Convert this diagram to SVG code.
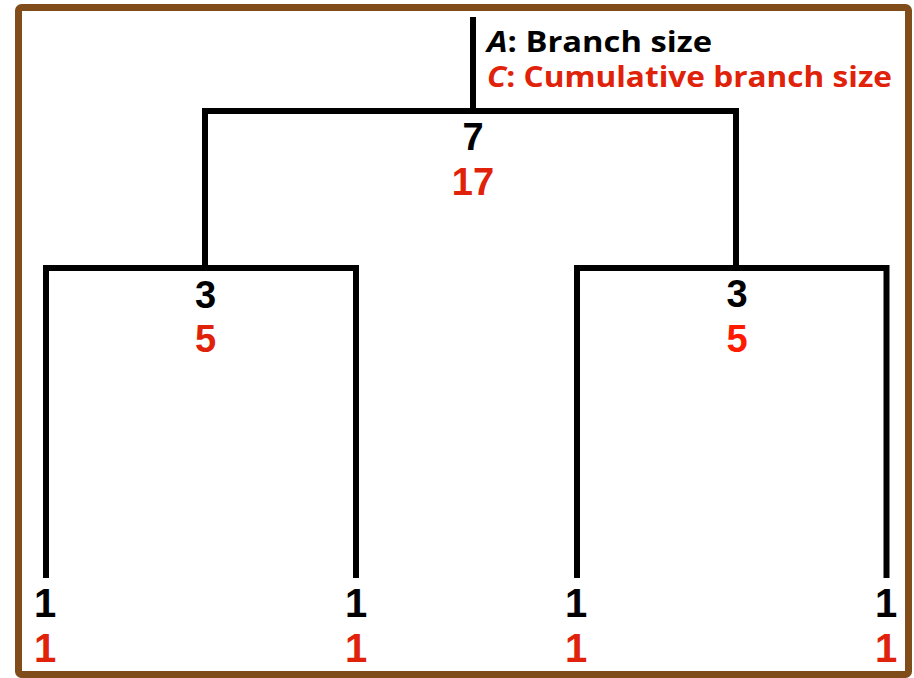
<svg xmlns="http://www.w3.org/2000/svg" width="914" height="678" viewBox="0 0 914 678">
<style>
.edge{fill:none;stroke:#000;stroke-width:6;stroke-linejoin:miter;stroke-linecap:butt}
.a{font-family:"Liberation Sans",Arial,sans-serif;font-weight:bold;font-size:38px;fill:#000;text-anchor:middle}
.c{font-family:"Liberation Sans",Arial,sans-serif;font-weight:bold;font-size:38px;fill:#e0220a;text-anchor:middle}
.la{font-family:"Liberation Sans",Arial,sans-serif;font-weight:bold;font-size:40px;fill:#000;text-anchor:middle}
.lc{font-family:"Liberation Sans",Arial,sans-serif;font-weight:bold;font-size:40px;fill:#e0220a;text-anchor:middle}
.leg{font-family:"Open Sans","Noto Sans",sans-serif;font-weight:bold;font-size:28px}
</style>
<rect x="0" y="0" width="914" height="678" fill="#fff"/>
<rect x="18.5" y="7.5" width="890" height="667" rx="3" fill="#fff" stroke="#7f4c1a" stroke-width="7"/>
<g id="connectors">
<path class="edge" d="M473,17 V111"/>
<path class="edge" d="M205,268 V111 H736 V268"/>
<path class="edge" d="M46,578 V268 H356 V578"/>
<path class="edge" d="M577,578 V268 H886.5 V578"/>
</g>
<g id="legend">
<text class="leg" x="487" y="52" fill="#000" textLength="225" lengthAdjust="spacingAndGlyphs"><tspan font-style="italic">A</tspan>: Branch size</text>
<text class="leg" x="487" y="87" fill="#e0220a" textLength="405" lengthAdjust="spacingAndGlyphs"><tspan font-style="italic">C</tspan>: Cumulative branch size</text>
</g>
<g id="root"><text class="a" x="473" y="150">7</text><text class="c" x="473" y="195">17</text></g>
<g id="left"><text class="a" x="205.5" y="308">3</text><text class="c" x="205.5" y="352">5</text></g>
<g id="right"><text class="a" x="737" y="307">3</text><text class="c" x="737" y="352" style="fill:#ff1a00">5</text></g>
<g id="leaf1"><text class="la" x="45" y="617">1</text><text class="lc" x="45" y="662">1</text></g>
<g id="leaf2"><text class="la" x="356" y="617">1</text><text class="lc" x="356" y="662">1</text></g>
<g id="leaf3"><text class="la" x="576" y="617">1</text><text class="lc" x="576" y="662">1</text></g>
<g id="leaf4"><text class="la" x="886" y="617">1</text><text class="lc" x="886" y="662">1</text></g>
</svg>
